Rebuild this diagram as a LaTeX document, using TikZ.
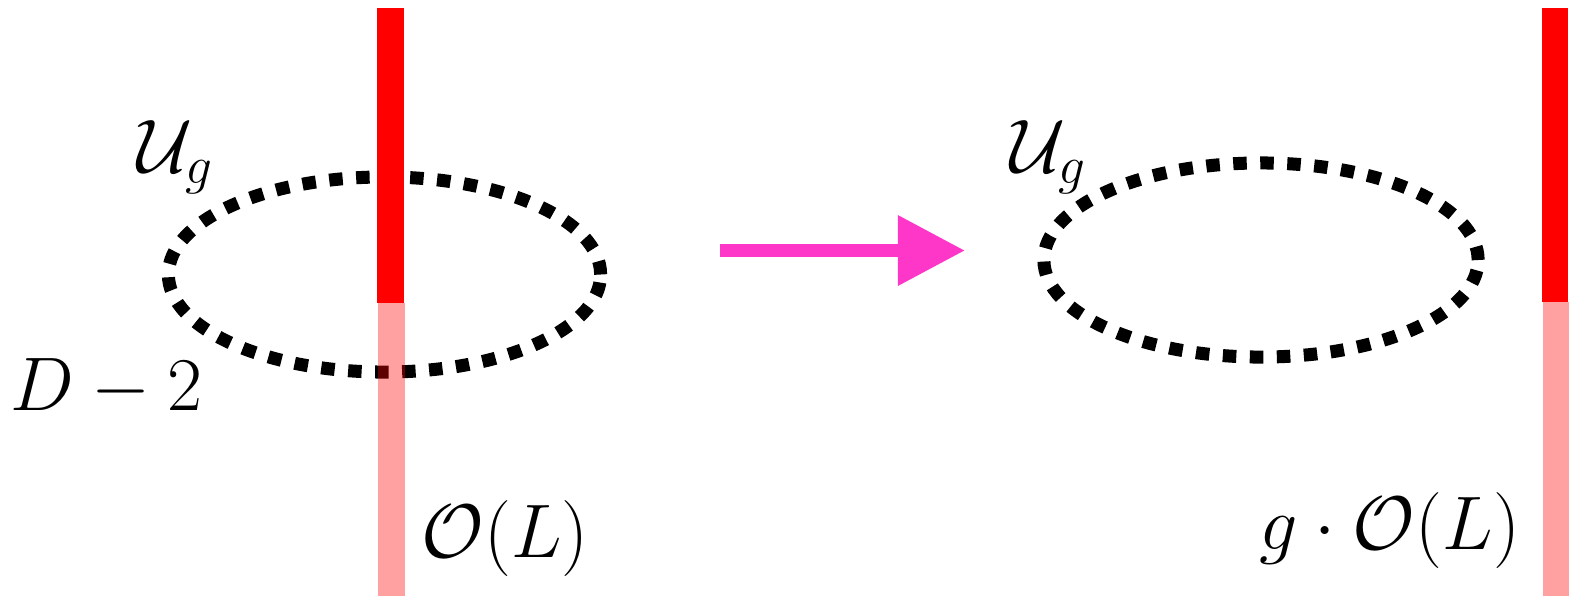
\RequirePackage{fix-cm}
\documentclass[tikz,border=0pt]{standalone}
\usetikzlibrary{arrows.meta}
\definecolor{flowpink}{RGB}{255,55,200}
\begin{document}
\begin{tikzpicture}[x=0.01cm,y=-0.01cm,
  lbl/.style={inner sep=0pt, anchor=base west, font=\fontsize{21.6}{26}\selectfont},
  loop/.style={draw=black, line width=0.13cm, dash pattern=on 0.135cm off 0.135cm},
  solidbar/.style={fill=red},
  fadebar/.style={fill=red, fill opacity=0.37},
  flow/.style={draw=flowpink, line width=0.13cm, -{Triangle[length=0.67cm,width=0.67cm,fill=flowpink]}}]
\useasboundingbox (0,0) rectangle (1573,596);
% loops
\draw[loop] (384.5,274.5) ellipse [x radius=2.16cm, y radius=0.975cm];
\draw[loop] (1261,260) ellipse [x radius=2.17cm, y radius=0.97cm];
% bars
\fill[solidbar] (377,8) rectangle (404,303);
\fill[fadebar] (378,303) rectangle (405,596);
\fill[solidbar] (1542,8) rectangle (1568,302);
\fill[fadebar] (1543,302) rectangle (1569,596);
% arrow
\coordinate (a1) at (720,250.5);
\coordinate (a2) at (965,250.5);
\draw[flow] (a1) -- (a2);
% labels
\node[lbl] (ugL) at (137,172) {$\mathcal{U}_g$};
\node[lbl] (dm2) at (10,410) {$D-2$};
\node[lbl] (olL) at (421,557) {$\mathcal{O}(L)$};
\node[lbl] (ugR) at (1010,172) {$\mathcal{U}_g$};
\node[lbl] (golR) at (1259,549) {$g\cdot\mathcal{O}(L)$};
\end{tikzpicture}
\end{document}
